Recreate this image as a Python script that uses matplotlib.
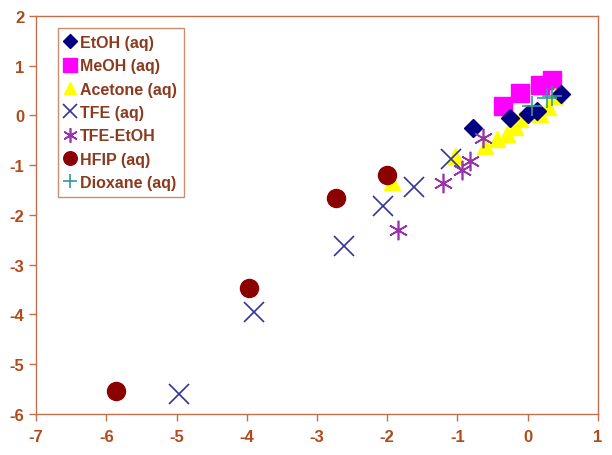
import matplotlib
matplotlib.use("Agg")
import matplotlib.pyplot as plt

plt.rcParams['axes.unicode_minus'] = False

# ---- data ----
etoh_x = [-0.78, -0.25, 0.0, 0.13, 0.48]
etoh_y = [-0.25, -0.05, 0.02, 0.08, 0.42]

meoh_x = [-0.35, -0.11, 0.17, 0.34]
meoh_y = [0.18, 0.46, 0.62, 0.72]

acetone_x = [-1.93, -1.04, -0.61, -0.44, -0.30, -0.18, -0.11, 0.17, 0.29, 0.39]
acetone_y = [-1.33, -0.82, -0.62, -0.48, -0.38, -0.24, -0.08, 0.02, 0.16, 0.38]

tfe_x = [-4.96, -3.90, -2.62, -2.06, -1.62, -1.09]
tfe_y = [-5.59, -3.96, -2.63, -1.83, -1.43, -0.87]

tfe_etoh_x = [-1.85, -1.20, -0.94, -0.82, -0.64]
tfe_etoh_y = [-2.30, -1.36, -1.09, -0.92, -0.46]

hfip_x = [-5.86, -3.97, -2.73, -2.00]
hfip_y = [-5.53, -3.47, -1.67, -1.19]

diox_x = [0.06, 0.27, 0.35]
diox_y = [0.18, 0.34, 0.38]

AXIS_COL = '#C0704A'
TEXT_COL = '#B04A1A'
LEG_COL = '#8B3A1E'

fig = plt.figure(figsize=(6.12, 4.56), dpi=100, facecolor='white')
ax = fig.add_axes([0.059, 0.090, 0.918, 0.873])

ax.plot(etoh_x, etoh_y, 'D', color='#000080', markersize=9, label='EtOH (aq)', zorder=4)
ax.plot(meoh_x, meoh_y, 's', color='#FF00FF', markersize=13, label='MeOH (aq)', zorder=2)
ax.plot(acetone_x, acetone_y, '^', color='#FFFF00', markersize=12, label='Acetone (aq)', zorder=3)
ax.plot(tfe_x, tfe_y, 'x', color='#333399', markersize=14, markeredgewidth=1.2, label='TFE (aq)', zorder=5)
ax.plot(tfe_etoh_x, tfe_etoh_y, marker=(6, 2, 0), linestyle='none', color='#9933AA',
        markersize=14, markeredgewidth=1.2, label='TFE-EtOH', zorder=5)
ax.plot(hfip_x, hfip_y, 'o', color='#8B0000', markersize=13, label='HFIP (aq)', zorder=4)
ax.plot(diox_x, diox_y, '+', color='#339999', markersize=14, markeredgewidth=1.2, label='Dioxane (aq)', zorder=6)

ax.set_xlim(-7, 1)
ax.set_ylim(-6, 2)
ax.set_xticks(range(-7, 2))
ax.set_yticks(range(-6, 3))

for s in ax.spines.values():
    s.set_color(AXIS_COL)
    s.set_linewidth(1.0)
ax.tick_params(colors=AXIS_COL, direction='out', length=5, width=1, labelcolor=TEXT_COL,
               labelsize=12)
ax.tick_params(axis='x', pad=6)
for lab in ax.get_xticklabels() + ax.get_yticklabels():
    lab.set_fontweight('bold')
    lab.set_family('Liberation Sans')

leg = ax.legend(loc='upper left', bbox_to_anchor=(0.025, 0.99), frameon=True, fancybox=False,
                handlelength=0.6, handletextpad=0.3, labelspacing=0.52, borderpad=0.45,
                prop={'family': 'Liberation Sans', 'weight': 'bold', 'size': 11.5}, markerscale=0.75)
leg.get_frame().set_edgecolor(AXIS_COL)
leg.get_frame().set_linewidth(1.0)
for t in leg.get_texts():
    t.set_color(LEG_COL)

fig.savefig('out.png', dpi=100, facecolor='white')
